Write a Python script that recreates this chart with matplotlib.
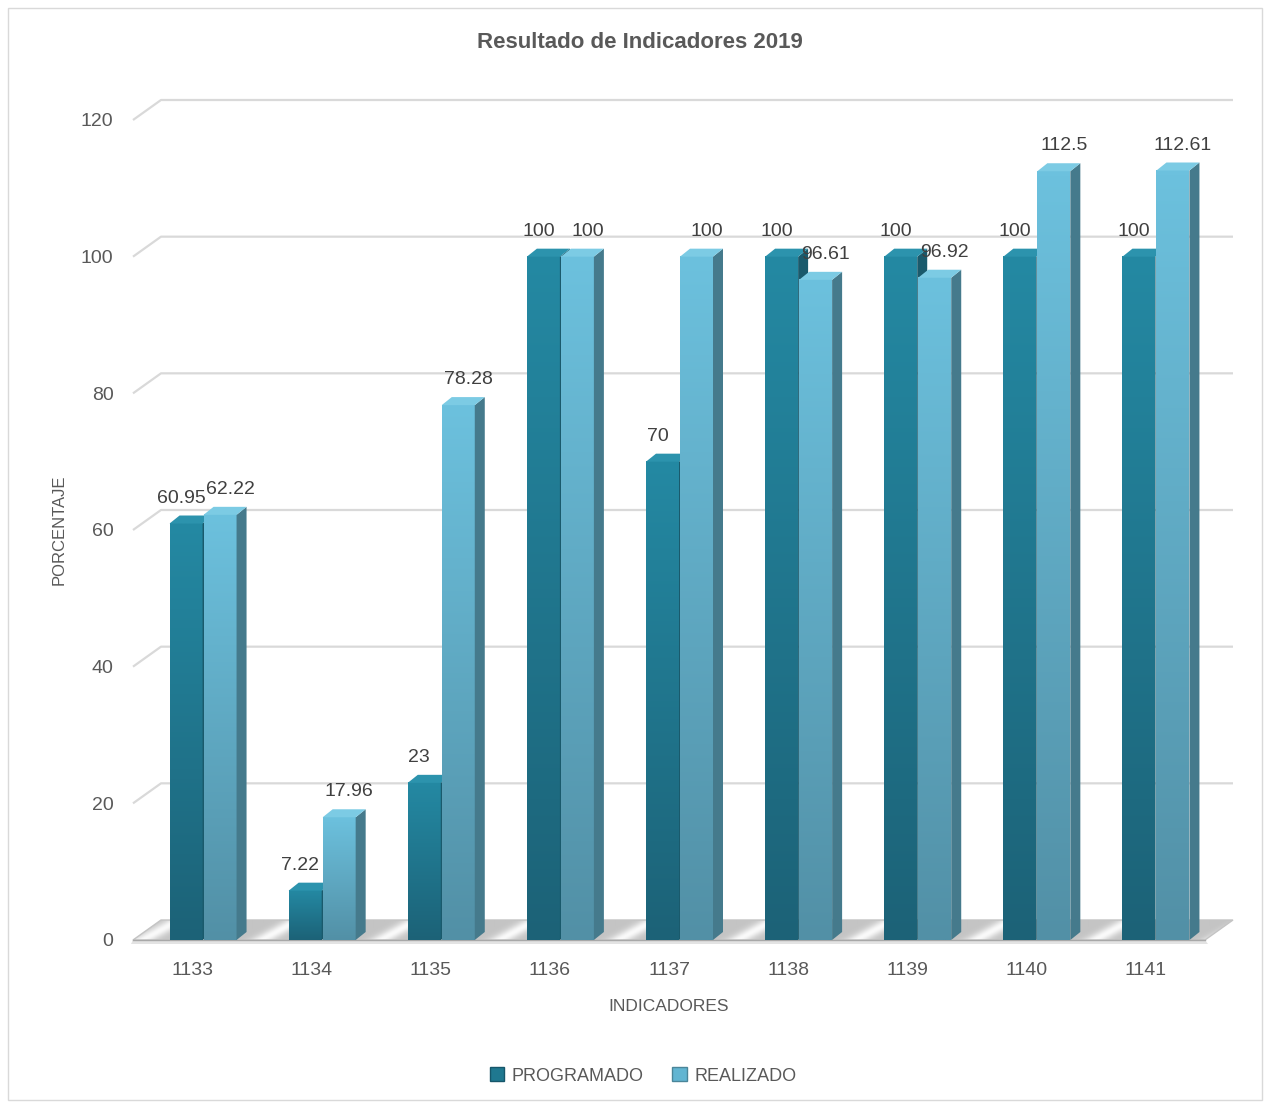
import numpy as np
import matplotlib
matplotlib.use("Agg")
import matplotlib.pyplot as plt
from matplotlib.colors import LinearSegmentedColormap
from matplotlib.patches import Polygon, Rectangle, Patch

# -----------------------------
# Data
# -----------------------------
indicadores = ['1133', '1134', '1135', '1136', '1137', '1138', '1139', '1140', '1141']
programado = [60.95, 7.22, 23, 100, 70, 100, 100, 100, 100]
realizado = [62.22, 17.96, 78.28, 100, 100, 96.61, 96.92, 112.5, 112.61]
yticks = [0, 20, 40, 60, 80, 100, 120]

plt.rcParams['font.family'] = ['Liberation Sans', 'DejaVu Sans']
TXT = '#595959'

W, H = 1270, 1108
fig = plt.figure(figsize=(W / 100, H / 100), dpi=100)
ax = fig.add_axes([133 / W, 168 / H, 1072 / W, 820 / H])

n = len(indicadores)
x0, x1 = -0.5, n - 0.5
ymax = 120
ux = (x1 - x0) / 1072   # units per pixel in x
uy = ymax / 820         # units per pixel in y

# back-wall offset and bar depth (pseudo 3D)
bdx, bdy = 28 * ux, 20 * uy
ddx, ddy = 10 * ux, 8 * uy
bw = 33 * ux

# -----------------------------
# Floor (gray with light diagonal streaks) and gridlines
# -----------------------------
floor = Polygon([(x0, 0), (x1, 0), (x1 + bdx, bdy), (x0 + bdx, bdy)],
                closed=True, facecolor='none', edgecolor='#C4C4C4', lw=1, zorder=1.2, clip_on=False)
ax.add_patch(floor)
fx = np.linspace(x0, x1 + bdx, 1200)
ff = np.linspace(0, 1, 40)
FX, FF = np.meshgrid(fx, ff)
u = np.mod(FX - 0.08 - FF * 0.3, 1.0)
streak = np.exp(-((u - 0.5) ** 2) / (2 * 0.07 ** 2))
floor_cmap = LinearSegmentedColormap.from_list('floor', ['#C4C4C4', '#FAFAFA'])
img = ax.imshow(streak, extent=[x0, x1 + bdx, 0, bdy], origin='lower', aspect='auto',
                cmap=floor_cmap, zorder=1, interpolation='bilinear', vmin=0, vmax=1)
img.set_clip_box(fig.bbox)
img.set_clip_path(floor)
edge = Polygon([(x0, 0), (x1, 0), (x1 + 3 * ux, -4 * uy), (x0 - 2 * ux, -4 * uy)],
               closed=True, facecolor='#E3E3E3', edgecolor='none', zorder=1, clip_on=False)
ax.add_patch(edge)
ax.plot([x0, x1], [0, 0], color='#A8A8A8', lw=1, zorder=1.5, clip_on=False)

for t in yticks[1:]:
    ax.plot([x0, x0 + bdx, x1 + bdx], [t, t + bdy, t + bdy], color='#D9D9D9', lw=1.6,
            zorder=0, clip_on=False, solid_capstyle='butt')

# -----------------------------
# Bars
# -----------------------------
def grad_cmap(top, bottom):
    return LinearSegmentedColormap.from_list('g', [bottom, top])

grad = np.linspace(0, 1, 256).reshape(-1, 1)

def bar3d(xc, val, top, bottom, side, cap, z):
    xl, xr = xc - bw / 2, xc + bw / 2
    ax.imshow(grad, extent=[xl, xr, 0, val], origin='lower', aspect='auto',
              cmap=grad_cmap(top, bottom), zorder=z, interpolation='bilinear')
    ax.add_patch(Polygon([(xr, 0), (xr + ddx, ddy), (xr + ddx, val + ddy), (xr, val)],
                         closed=True, facecolor=side, edgecolor='none', zorder=z))
    ax.add_patch(Polygon([(xl, val), (xr, val), (xr + ddx, val + ddy), (xl + ddx, val + ddy)],
                         closed=True, facecolor=cap, edgecolor='none', zorder=z, clip_on=False))

for i in range(n):
    xp = i - 6.5 * ux
    xrz = i + 27.5 * ux
    bar3d(xp, programado[i], '#2489A3', '#1C6277', '#1A5A6C', '#2C93AD', 3 + i * 0.01)
    bar3d(xrz, realizado[i], '#6CC1DE', '#5290A6', '#457A8C', '#7CCBE4', 4 + i * 0.01)
    ax.text(xp - 5 * ux, programado[i] + ddy + 1.3, f'{programado[i]:g}', ha='center', va='bottom',
            fontsize=14, color='#404040', zorder=10)
    ax.text(xrz + ddx, realizado[i] + ddy + 1.3, f'{realizado[i]:g}', ha='center', va='bottom',
            fontsize=14, color='#404040', zorder=10)

ax.set_xlim(x0, x1)
ax.set_ylim(0, ymax)
ax.set_xticks(range(n))
ax.set_xticklabels(indicadores)
ax.set_yticks(yticks)
ax.tick_params(length=0, labelsize=14, labelcolor=TXT)
ax.tick_params(axis='y', pad=14)
ax.tick_params(axis='x', pad=16)
for s in ax.spines.values():
    s.set_visible(False)
ax.set_facecolor('none')

ax.set_xlabel('INDICADORES', fontsize=12.5, color=TXT, labelpad=14)
ax.set_ylabel('PORCENTAJE', fontsize=12, color=TXT, labelpad=10)

fig.text(0.5 + 5 / W, 1 - 43 / H, 'Resultado de Indicadores 2019', ha='center', va='center',
         fontsize=16, fontweight='bold', color=TXT)

handles = [Patch(facecolor='#1F7890', edgecolor='#16566A'),
           Patch(facecolor='#62B5D2', edgecolor='#4A8599')]
fig.legend(handles, ['PROGRAMADO', 'REALIZADO'], loc='center', bbox_to_anchor=(643 / W, 1 - 1076 / H),
           ncol=2, frameon=False, fontsize=13, labelcolor=TXT, handlelength=0.8, handleheight=0.8,
           handletextpad=0.4, columnspacing=1.6)

fig.add_artist(Rectangle((8 / W, 8 / H), 1254 / W, 1092 / H, transform=fig.transFigure,
                         fill=False, edgecolor='#D9D9D9', lw=1))

fig.savefig('out.png', dpi=100)
